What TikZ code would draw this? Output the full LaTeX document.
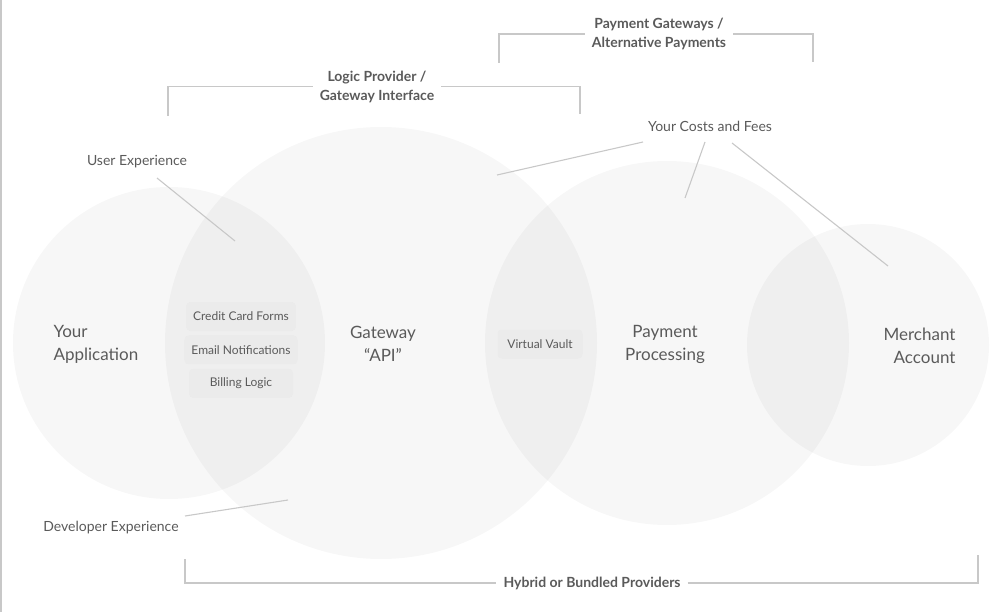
\documentclass[tikz,border=0pt]{standalone}
\usepackage{fontspec}
\setmainfont{Lato}
\usetikzlibrary{positioning}

\definecolor{inkgray}{HTML}{5A5A5A}
\definecolor{rulegray}{HTML}{C8C8C8}
\definecolor{boxgray}{HTML}{EBEBEB}

\begin{document}
\begin{tikzpicture}[
    x=1pt, y=-1pt,
    blob/.style={circle, fill=black, fill opacity=0.03, draw=none, inner sep=0pt},
    big/.style={text=inkgray, font=\fontsize{17}{23}\selectfont},
    note/.style={text=inkgray, font=\fontsize{14}{17}\selectfont, inner sep=0pt},
    title/.style={text=inkgray, font=\bfseries\fontsize{14}{19}\selectfont,
                  align=center, inner xsep=7pt, inner ysep=0pt},
    tag/.style={fill=boxgray, rounded corners=4pt, text=inkgray,
                font=\fontsize{12}{14}\selectfont, minimum height=29pt,
                minimum width=104pt, inner xsep=7pt},
    rule/.style={draw=rulegray, line width=1.1pt}
  ]
  \useasboundingbox (0,0) rectangle (1000,612);
  \draw[rule] (1,0) -- (1,612);

  % circles
  \node[blob, minimum size=312pt] (app) at (169,343) {};
  \node[blob, minimum size=432pt] (api) at (381,343) {};
  \node[blob, minimum size=364pt] (proc) at (667,343) {};
  \node[blob, minimum size=242pt] (merch) at (868,345) {};

  \node[big, anchor=west, align=left] (appl) at (50,344) {Your\\Application};
  \node[big, align=center] (apil) at (383,344) {Gateway\\``API''};
  \node[big, align=center] (procl) at (665,344) {Payment\\Processing};
  \node[big, anchor=east, align=right] (merchl) at (959,346) {Merchant\\Account};

  % feature tags
  \node[tag] (cc) at (241,316.5) {Credit Card Forms};
  \node[tag, minimum width=112pt, below=4pt of cc] (mail) {Email Notifications};
  \node[tag, below=4pt of mail] (bill) {Billing Logic};
  \node[tag, minimum width=85pt] (vault) at (540,344) {Virtual Vault};

  % callouts
  \node[note] (ux) at (137,162) {User Experience};
  \coordinate (uxA) at (157,178);
  \coordinate (uxB) at (235,241);
  \draw[rule] (uxA) -- (uxB);

  \node[note] (dx) at (111,528) {Developer Experience};
  \coordinate (dxA) at (185,516);
  \coordinate (dxB) at (288,500);
  \draw[rule] (dxA) -- (dxB);

  \node[note] (fees) at (710,126) {Your Costs and Fees};
  \coordinate (feA) at (643,142);
  \coordinate (feB) at (497,175);
  \coordinate (feC) at (705,142);
  \coordinate (feD) at (685,198);
  \coordinate (feE) at (732,143);
  \coordinate (feF) at (888,266);
  \draw[rule] (feA) -- (feB);
  \draw[rule] (feC) -- (feD);
  \draw[rule] (feE) -- (feF);

  % brackets
  \node[title] (lp) at (377,86.5) {Logic Provider /\\Gateway Interface};
  \coordinate (lpA) at (168,116);
  \coordinate (lpB) at (580,114);
  \draw[rule] (lpA) |- (lp.west);
  \draw[rule] (lp.east) -| (lpB);

  \node[title] (pg) at (659,34) {Payment Gateways /\\Alternative Payments};
  \coordinate (pgA) at (499,63);
  \coordinate (pgB) at (813,62);
  \draw[rule] (pgA) |- (pg.west);
  \draw[rule] (pg.east) -| (pgB);

  \node[title] (hb) at (592,583) {Hybrid or Bundled Providers};
  \coordinate (hbA) at (185,559);
  \coordinate (hbB) at (978,555);
  \draw[rule] (hbA) |- (hb.west);
  \draw[rule] (hb.east) -| (hbB);
\end{tikzpicture}
\end{document}
